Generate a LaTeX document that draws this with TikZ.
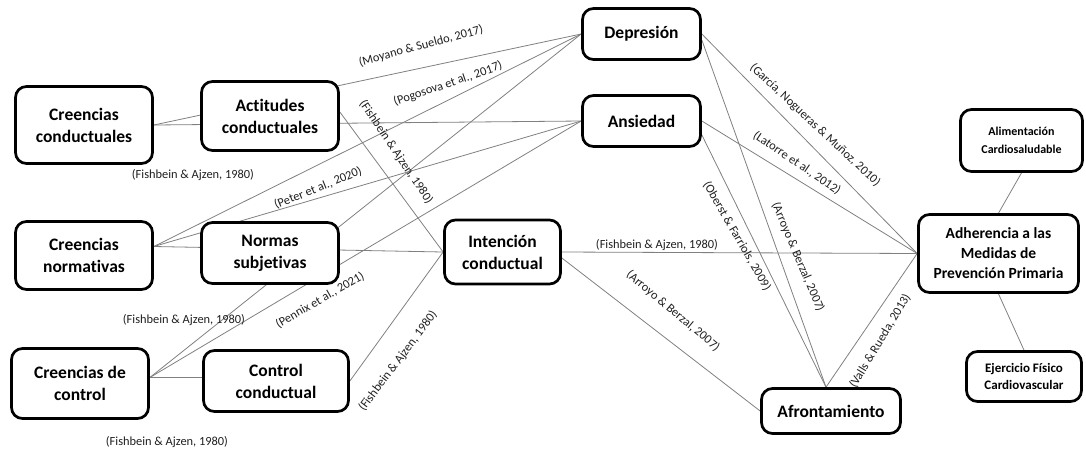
\documentclass[tikz,border=0pt]{standalone}
\usepackage{fontspec}
\setmainfont{Carlito}[RawFeature={-liga}]
\usetikzlibrary{backgrounds}
\begin{document}
\begin{tikzpicture}[x=1pt,y=-1pt,
  box/.style={draw=black, line width=2.7pt, rounded corners=11pt, fill=white, align=center, inner sep=2pt, font=\bfseries\fontsize{17.5}{22}\selectfont},
  conn/.style={draw=black!50, line width=0.8pt},
  lbl/.style={font=\fontsize{12.4}{14}\selectfont, text=black!88, inner sep=0pt}]
\useasboundingbox (0,0) rectangle (1086,451);
% boxes
\node[box, minimum width=137pt, minimum height=77pt] (cc) at (84,125) {Creencias\\conductuales};
\node[box, minimum width=137pt, minimum height=69pt] (ac) at (270,116) {Actitudes\\conductuales};
\node[box, minimum width=118pt, minimum height=51pt] (dep) at (641.5,34) {Depresión};
\node[box, minimum width=118pt, minimum height=51pt] (ans) at (641.5,121) {Ansiedad};
\node[box, minimum width=116pt, minimum height=64pt] (int) at (502.5,252) {Intención\\conductual};
\node[box, minimum width=137pt, minimum height=68pt] (cn) at (84,255.5) {Creencias\\normativas};
\node[box, minimum width=137pt, minimum height=61pt] (ns) at (270,253) {Normas\\subjetivas};
\node[box, minimum width=137pt, minimum height=70pt] (cdc) at (80,383.5) {Creencias de\\control};
\node[box, minimum width=145pt, minimum height=61pt] (ctrl) at (276,381) {Control\\conductual};
\node[box, minimum width=139pt, minimum height=45pt] (afr) at (831,411) {Afrontamiento};
\node[box, minimum width=160pt, minimum height=78pt, font=\bfseries\fontsize{15.5}{20}\selectfont] (adh) at (998.5,253.5) {Adherencia a las\\Medidas de\\Prevención Primaria};
\node[box, minimum width=122pt, minimum height=62pt, font=\bfseries\fontsize{12}{18}\selectfont] (alim) at (1021.5,140.5) {Alimentación\\Cardiosaludable};
\node[box, minimum width=115pt, minimum height=50pt, font=\bfseries\fontsize{13}{17}\selectfont] (ejer) at (1024,376.5) {Ejercicio Físico\\Cardiovascular};
% connectors
\begin{scope}[on background layer]
\coordinate (cns) at ([yshift=9pt]cn.east);
\coordinate (cdcs) at ([yshift=6pt]cdc.east);
\coordinate (afrn) at ([xshift=-5pt]afr.north);
\draw[conn] (cc.east) -- (dep.west);
\draw[conn] (cc.east) -- (ans.west);
\draw[conn] ([yshift=4pt]ac.east) -- (int.west);
\draw[conn] (cns) -- (dep.west);
\draw[conn] (cns) -- (ans.west);
\draw[conn] (cns) -- (int.west);
\draw[conn] (cdcs) -- (dep.west);
\draw[conn] (cdcs) -- (ans.west);
\draw[conn] (cdcs) -- (cdcs -| ctrl.west);
\draw[conn] (ctrl.east) -- (int.west);
\draw[conn] (int.east) -- (adh.west);
\draw[conn] ([yshift=-6pt]int.east) -- (afr.west);
\draw[conn] (dep.east) -- (adh.west);
\draw[conn] ([yshift=-6pt]dep.east) -- (afrn);
\draw[conn] (ans.east) -- (adh.west);
\draw[conn] ([yshift=-14pt]ans.east) -- (afrn);
\draw[conn] (afrn) -- (adh.west);
\draw[conn] (alim.south) -- (adh.north);
\draw[conn] (adh.south) -- (ejer.north);
\end{scope}
% labels
\node[lbl, rotate=15] (l1) at (421,46) {(Moyano \& Sueldo, 2017)};
\node[lbl, rotate=19] (l2) at (448,84) {(Pogosova et al., 2017)};
\node[lbl, rotate=-56] (l3) at (396,152) {(Fishbein \& Ajzen, 1980)};
\node[lbl, rotate=22] (l4) at (318,188) {(Peter et al., 2020)};
\node[lbl, rotate=30] (l5) at (320,300) {(Pennix et al., 2021)};
\node[lbl, rotate=53] (l6) at (398,361) {(Fishbein \& Ajzen, 1980)};
\node[lbl] (l7) at (657,245) {(Fishbein \& Ajzen, 1980)};
\node[lbl, rotate=-40] (l8) at (673,311) {(Arroyo \& Berzal, 2007)};
\node[lbl, rotate=-43] (l9) at (815,125) {(García, Nogueras \& Muñoz, 2010)};
\node[lbl, rotate=-34] (l10) at (797,163) {(Latorre et al., 2012)};
\node[lbl, rotate=-60] (l11) at (737,236) {(Oberst \& Farriols, 2009)};
\node[lbl, rotate=-67] (l12) at (798,257) {(Arroyo \& Berzal, 2007)};
\node[lbl, rotate=59] (l13) at (880,341) {(Valls \& Rueda, 2013)};
\node[lbl] (l14) at (193,175) {(Fishbein \& Ajzen, 1980)};
\node[lbl] (l15) at (184,320) {(Fishbein \& Ajzen, 1980)};
\node[lbl] (l16) at (167,442) {(Fishbein \& Ajzen, 1980)};
\end{tikzpicture}
\end{document}
